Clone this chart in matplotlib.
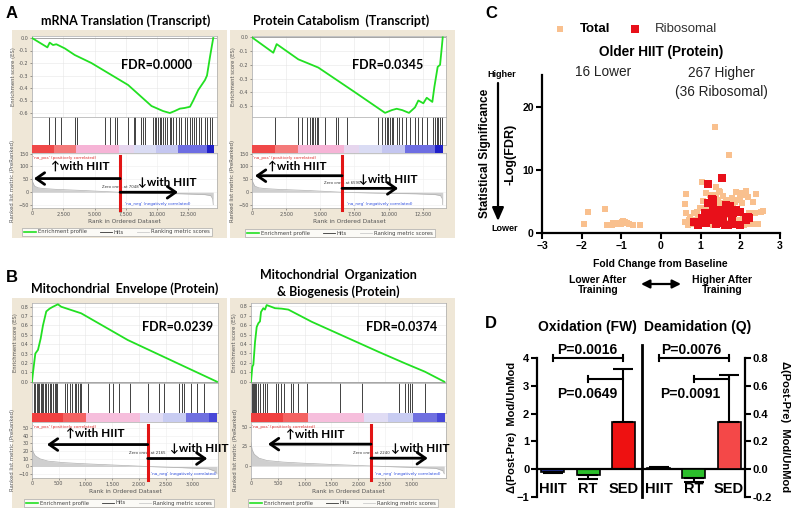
import numpy as np
import matplotlib
matplotlib.use('Agg')
import matplotlib.pyplot as plt
from matplotlib.colors import ListedColormap
from matplotlib.patches import Rectangle
from matplotlib.lines import Line2D

# ---------------- data ----------------
# A left: mRNA Translation (Transcript)
a1_es_rank = [0, 1230, 1415, 1680, 1950, 2620, 3420, 4750, 7690, 9560, 10500, 11030, 11400,
              11830, 12200, 12640, 12900, 13300, 13840, 14000, 14240, 14500]
a1_es = [0, -0.075, -0.037, -0.056, -0.05, -0.083, -0.136, -0.2, -0.376, -0.544, -0.585, -0.6,
         -0.585, -0.565, -0.56, -0.55, -0.5, -0.416, -0.336, -0.3, -0.15, 0]
a1_hits = [1330, 1810, 2350, 3410, 3630, 5870, 6210, 6670, 6830, 7680, 8160, 8270, 8690, 8880,
           9010, 9680, 9810, 9950, 10080, 10210, 10350, 10480, 10610, 10830, 11010, 11150, 11280,
           11550, 11730, 11950, 12210, 12430, 12610, 12800, 12960, 13150, 13330, 13550, 13810,
           14030, 14210, 14400]
a1_met_rank = [0, 50, 200, 500, 1000, 2000, 4000, 7000, 9000, 12000, 13800, 14300, 14450, 14500]
a1_met = [62, 40, 24, 17, 14, 11, 7, 0, -3, -6, -9, -13, -25, -48]
a1_n, a1_zero = 14500, 7048

# A right: Protein Catabolism (Transcript)
a2_es_rank = [0, 1560, 1805, 3390, 4370, 4855, 7540, 9740, 10230, 10590, 11000, 11490, 11930,
              12175, 12540, 12790, 13200, 13350, 13590, 13765, 13885, 13960]
a2_es = [0, -0.112, -0.049, -0.16, -0.2, -0.22, -0.40, -0.55, -0.53, -0.52, -0.53, -0.55, -0.51,
         -0.46, -0.48, -0.44, -0.47, -0.36, -0.215, -0.2, -0.08, 0]
a2_hits = [1680, 3390, 3690, 4000, 4250, 4370, 4490, 4610, 4730, 4810, 5340, 6130, 6270, 6930,
           9250, 9490, 9740, 9860, 9980, 10100, 10220, 10350, 10590, 10760, 10960, 11250, 11570,
           11930, 12130, 12470, 12790, 13280, 13400, 13520, 13640, 13760, 13890]
a2_met_rank = [0, 50, 200, 500, 1000, 2000, 4000, 6590, 9000, 12000, 13400, 13800, 13930, 13960]
a2_met = [62, 40, 24, 17, 14, 11, 7, 0, -3, -6, -9, -13, -25, -48]
a2_n, a2_zero = 13960, 6590

# B left: Mitochondrial Envelope (Protein)
b1_es_rank = [0, 19, 62, 112, 162, 205, 267, 330, 392, 485, 547, 920, 1791, 2724, 3460]
b1_es = [0, 0.10, 0.30, 0.34, 0.46, 0.60, 0.75, 0.78, 0.80, 0.826, 0.80, 0.73, 0.445, 0.196, 0]
b1_hits = [37, 62, 87, 112, 137, 162, 187, 211, 236, 267, 299, 330, 361, 392, 423, 454, 473,
           622, 659, 703, 746, 796, 827, 858, 889, 908, 1045, 1437, 1511, 1636, 1835, 2177,
           2382, 2475, 2755, 2799, 2836, 2973, 3085, 3209]
b1_met_rank = [0, 20, 60, 150, 300, 600, 1000, 1500, 2165, 2800, 3300, 3420, 3460]
b1_met = [26, 19, 14, 10, 7, 5, 3.5, 2, 0, -1.5, -3, -6, -9]
b1_n, b1_zero = 3460, 2165

# B right: Mitochondrial Organization & Biogenesis (Protein)
b2_es_rank = [0, 25, 44, 75, 106, 137, 168, 187, 230, 261, 292, 354, 448, 572, 697, 1132,
              1754, 2376, 2873, 3246, 3607]
b2_es = [0, 0.16, 0.18, 0.42, 0.58, 0.62, 0.64, 0.74, 0.78, 0.765, 0.813, 0.80, 0.78, 0.775,
         0.765, 0.636, 0.477, 0.318, 0.195, 0.106, 0]
b2_hits = [25, 44, 62, 81, 99, 137, 168, 230, 261, 292, 460, 510, 560, 622, 746, 790, 883,
           1039, 1660, 2065, 2761, 2873, 2923, 2966, 2997, 3246]
b2_met_rank = [0, 20, 60, 150, 300, 600, 1000, 1500, 2240, 2900, 3450, 3580, 3607]
b2_met = [30, 21, 15, 10, 7, 5, 3.5, 2, 0, -1.5, -3, -6, -10]
b2_n, b2_zero = 3607, 2240

# C: volcano
lower_x = [-1.95, -1.83, -1.41, -1.36, -1.24, -1.15, -1.07, -0.99, -0.90, -0.86, -0.70, -0.53,
           -1.00, -0.95, -1.20, -0.80]
lower_y = [1.5, 3.4, 3.8, 1.3, 1.3, 1.5, 1.6, 1.7, 1.8, 1.6, 1.3, 1.3, 1.4, 1.9, 1.6, 1.5]
higher_x = [0.63, 0.61, 0.64, 0.73, 0.61, 0.69, 0.90, 0.94, 0.98, 1.06, 1.13, 1.23, 1.35, 1.44,
            1.57, 1.65, 1.73, 1.82, 1.90, 1.99, 2.03, 2.11, 2.15, 2.19, 2.32, 2.40, 2.53, 2.58,
            2.23, 2.36, 2.11, 2.23, 2.36, 2.44, 2.07, 1.95, 1.39, 1.32, 1.53, 1.61, 0.86, 0.98,
            1.10, 1.22, 1.49, 1.69, 1.78, 1.86, 1.57, 1.39, 1.90, 2.03, 0.82, 1.39, 1.49, 1.35,
            1.71, 1.03, 1.45, 0.75, 1.00, 1.30, 1.45, 1.75, 1.85, 2.00, 2.10, 0.70, 1.15]
higher_y = [6.1, 4.6, 3.1, 2.6, 1.7, 1.3, 3.4, 2.6, 3.9, 5.0, 6.3, 6.0, 4.7, 5.2, 4.7, 5.2, 4.9,
            4.2, 5.2, 5.5, 4.7, 6.0, 6.7, 5.7, 4.9, 6.2, 3.4, 3.5, 3.1, 3.1, 1.5, 1.4, 1.4, 1.4,
            2.6, 2.1, 3.1, 2.3, 3.1, 2.8, 2.1, 2.1, 3.9, 4.1, 4.5, 3.9, 5.5, 4.9, 5.8, 6.0, 6.5,
            6.3, 3.1, 7.3, 6.5, 16.7, 12.3, 8.05, 6.6, 1.4, 1.4, 1.3, 1.4, 1.6, 1.3, 1.8, 1.3,
            2.0, 2.5]
rib_x = [1.19, 1.53, 1.28, 1.32, 1.65, 1.61, 1.90, 1.98, 2.19, 2.23, 1.10, 1.19, 1.28, 1.36,
         1.49, 1.57, 1.69, 1.78, 0.82, 0.93, 1.05, 1.14, 1.22, 1.39, 1.52, 1.61, 1.69, 1.78,
         1.99, 1.03, 1.49, 1.82, 1.32, 1.74, 1.19, 2.15]
rib_y = [7.7, 8.7, 5.4, 5.2, 4.4, 3.6, 3.7, 3.4, 2.6, 2.3, 3.2, 2.8, 3.1, 2.6, 2.6, 2.3, 3.1,
         2.3, 1.7, 1.3, 1.8, 1.6, 2.1, 1.5, 1.6, 1.3, 1.3, 1.4, 1.3, 2.3, 3.6, 3.1, 3.9, 4.2,
         4.7, 2.1]

# D: bars
groups = ['HIIT', 'RT', 'SED']
ox_mean = [-0.10, -0.22, 1.70]
ox_err = [0.05, 0.15, 1.90]
de_mean = [0.012, -0.062, 0.338]
de_err = [0.004, 0.030, 0.338]

# ---------------- figure ----------------
W, H = 800, 515
fig = plt.figure(figsize=(8, 5.15), dpi=100)
SANS = ['Liberation Sans', 'DejaVu Sans']
CAL = ['Lato', 'DejaVu Sans']
BEIGE = '#efe7d7'


def px_axes(x0, y0, x1, y1):
    return fig.add_axes([x0 / W, 1 - y1 / H, (x1 - x0) / W, (y1 - y0) / H])


def ftext(x, y, s, **kw):
    return fig.text(x / W, 1 - y / H, s, **kw)


cols_a = (['#f04848'] * 3 + ['#f47a7a'] * 3 + ['#f6b4d6'] * 6 + ['#e6d6ee'] * 2 + ['#dadcf4'] * 3
          + ['#c4c6f0'] * 3 + ['#6e6ee2'] * 4 + ['#2020c8'])
cols_b = (['#f04040'] * 4 + ['#f46262'] * 3 + ['#f6bedc'] * 7 + ['#e0dcf4'] * 3 + ['#c8ccf2'] * 3
          + ['#7070e0'] * 3 + ['#4848d8'])


def gsea(lay, es_rank, es, hits, met_rank, met, n, zero, cols):
    bx0, by0, bx1, by1 = lay['box']
    fig.add_artist(Rectangle((bx0 / W, 1 - by1 / H), (bx1 - bx0) / W, (by1 - by0) / H,
                             transform=fig.transFigure, facecolor=BEIGE, edgecolor='none', zorder=-5))
    x0, x1 = lay['x']
    e0, e1, h1, c1, r1 = lay['y']
    tick_kw = dict(labelsize=3.5, length=1.5, width=0.4, colors='#555555', pad=1)

    # enrichment score
    ax = px_axes(x0, e0, x1, e1)
    ax.plot(es_rank, es, color='#22e022', lw=1.3, zorder=3)
    ax.axhline(0, color='#999999', lw=0.6)
    ax.set_xlim(0, lay['xmax'])
    ax.set_ylim(*lay['es_lim'])
    ax.set_yticks(lay['es_ticks'])
    ax.set_yticklabels(['%.1f' % t for t in lay['es_ticks']])
    ax.set_xticks(lay['xticks'])
    ax.set_xticklabels([])
    ax.grid(color='#e6e6e6', lw=0.4)
    ax.tick_params(**tick_kw)
    ax.set_ylabel('Enrichment score (ES)', fontsize=3.8, color='#555555', labelpad=2)
    for s in ax.spines.values():
        s.set_color('#aaaaaa')
        s.set_linewidth(0.5)

    # hits
    axh = px_axes(x0, e1, x1, h1)
    axh.vlines(hits, 0, 1, color='#222222', lw=0.6)
    axh.set_xlim(0, lay['xmax'])
    axh.set_ylim(0, 1)
    axh.set_xticks([])
    axh.set_yticks([])
    for s in axh.spines.values():
        s.set_color('#aaaaaa')
        s.set_linewidth(0.5)

    # colour bar
    axc = px_axes(x0, h1, x1, c1)
    axc.imshow(np.arange(len(cols))[None, :], cmap=ListedColormap(cols), aspect='auto',
               extent=(0, n, 0, 1), interpolation='nearest')
    axc.set_xlim(0, lay['xmax'])
    axc.set_ylim(0, 1)
    axc.axis('off')

    # ranked list metric
    axr = px_axes(x0, c1, x1, r1)
    axr.fill_between(met_rank, 0, met, color='#cfcfcf', lw=0)
    axr.plot(met_rank, met, color='#b0b0b0', lw=0.5)
    axr.set_xlim(0, lay['xmax'])
    axr.set_ylim(*lay['met_lim'])
    axr.set_yticks(lay['met_ticks'])
    axr.set_xticks(lay['xticks'])
    axr.set_xticklabels(['{:,}'.format(t) for t in lay['xticks']])
    axr.tick_params(**tick_kw)
    axr.set_xlabel('Rank in Ordered Dataset', fontsize=4.2, color='#555555', labelpad=1.5)
    axr.set_ylabel('Ranked list metric (PreRanked)', fontsize=3.8, color='#555555', labelpad=2)
    for s in axr.spines.values():
        s.set_color('#aaaaaa')
        s.set_linewidth(0.5)
    axr.grid(color='#eeeeee', lw=0.4)
    axr.set_axisbelow(True)
    ylo, yhi = lay['met_lim']
    axr.text(lay['xmax'] * 0.005, yhi - (yhi - ylo) * 0.05, "'na_pos' (positively correlated)",
             color='#e03030', fontsize=3, va='top')
    axr.text(zero + (n - zero) * 0.05, ylo + (yhi - ylo) * 0.04, "'na_neg' (negatively correlated)",
             color='#3050e0', fontsize=3, va='bottom')
    axr.text(zero, lay['down']['y'] + (yhi - ylo) * 0.1, 'Zero cross at %d' % zero,
             fontsize=2.8, color='#333333', ha='center', va='center')
    axr.axvline(zero, ymin=-0.03, ymax=0.94, color='#e21515', lw=2.2, clip_on=False, zorder=5)
    arr = dict(arrowstyle='->,head_length=0.5,head_width=0.35', lw=2.0, color='black',
               mutation_scale=12, shrinkA=0, shrinkB=0)
    up, dn = lay['up'], lay['down']
    axr.annotate('', xy=(up['end'], up['y']), xytext=(zero, up['y']), arrowprops=arr,
                 annotation_clip=False, zorder=6)
    axr.annotate('', xy=(dn['end'], dn['y']), xytext=(zero, dn['y']), arrowprops=arr,
                 annotation_clip=False, zorder=6)
    axr.text(up['tx'], up['ty'], '\u2191with HIIT', family=CAL, fontweight='bold', fontsize=8.5,
             ha='center', va='center', zorder=7)
    axr.text(dn['tx'], dn['ty'], '\u2193with HIIT', family=CAL, fontweight='bold', fontsize=8.5,
             ha='center', va='center', zorder=7)

    # titles / FDR / legend
    for (tx, ty, s) in lay['title']:
        ftext(tx, ty, s, family=CAL, fontweight='bold', fontsize=9, ha='center', va='center')
    ftext(lay['fdr'][0], lay['fdr'][1], lay['fdr'][2], family=CAL, fontweight='bold', fontsize=9,
          ha='center', va='center')
    handles = [Line2D([], [], color='#22e022', lw=1.2), Line2D([], [], color='#333333', lw=0.6),
               Line2D([], [], color='#cccccc', lw=0.6)]
    leg = fig.legend(handles, ['Enrichment profile', 'Hits', 'Ranking metric scores'],
                     loc='center', bbox_to_anchor=(lay['legend'][0] / W, 1 - lay['legend'][1] / H),
                     ncol=3, fontsize=3.8, frameon=True, fancybox=False, edgecolor='#999999',
                     handlelength=2.2, columnspacing=2.5, handletextpad=0.4, borderpad=0.35)
    leg.get_frame().set_linewidth(0.5)
    for t in leg.get_texts():
        t.set_color('#444444')


lay_a1 = dict(box=(12, 30, 227, 238), x=(32, 217), y=(36, 117, 145, 153, 208), xmax=14800,
              es_lim=(-0.632, 0.016), es_ticks=[0, -0.1, -0.2, -0.3, -0.4, -0.5, -0.6],
              met_lim=(-61, 152), met_ticks=[-50, 0, 50, 100, 150],
              xticks=[0, 2500, 5000, 7500, 10000, 12500],
              title=[(126, 21, 'mRNA Translation (Transcript)')], fdr=(157, 65, 'FDR=0.0000'),
              legend=(117, 232),
              up=dict(y=53, end=150, tx=3840, ty=101), down=dict(y=0, end=11680, tx=10800, ty=37))
lay_a2 = dict(box=(230, 30, 455, 238), x=(252, 446), y=(36, 117, 145, 153, 208), xmax=14200,
              es_lim=(-0.58, 0.01), es_ticks=[0, -0.1, -0.2, -0.3, -0.4, -0.5],
              met_lim=(-61, 152), met_ticks=[-50, 0, 50, 100, 150],
              xticks=[0, 2500, 5000, 7500, 10000, 12500],
              title=[(341, 21, 'Protein Catabolism  (Transcript)')], fdr=(388, 65, 'FDR=0.0345'),
              legend=(340, 233),
              up=dict(y=64, end=220, tx=3300, ty=102), down=dict(y=15, end=10700, tx=9960, ty=49))
lay_b1 = dict(box=(12, 298, 227, 508), x=(32, 218), y=(303, 383, 413, 422, 478), xmax=3480,
              es_lim=(-0.014, 0.84), es_ticks=[0, 0.1, 0.2, 0.3, 0.4, 0.5, 0.6, 0.7, 0.8],
              met_lim=(-15, 58), met_ticks=[-10, 0, 10, 20, 30, 40, 50],
              xticks=[0, 500, 1000, 1500, 2000, 2500, 3000],
              title=[(125, 289, 'Mitochondrial  Envelope (Protein)')], fdr=(178, 327, 'FDR=0.0239'),
              legend=(119, 503),
              up=dict(y=28.6, end=280, tx=1175, ty=43), down=dict(y=10.4, end=3280, tx=3130, ty=23))
lay_b2 = dict(box=(230, 298, 455, 508), x=(251, 446), y=(303, 383, 413, 422, 478), xmax=3640,
              es_lim=(-0.014, 0.835), es_ticks=[0, 0.1, 0.2, 0.3, 0.4, 0.5, 0.6, 0.7, 0.8],
              met_lim=(-15.4, 56.4), met_ticks=[0, 25, 50],
              xticks=[0, 500, 1000, 1500, 2000, 2500, 3000],
              title=[(338, 275, 'Mitochondrial  Organization'), (338, 292, '& Biogenesis (Protein)')],
              fdr=(402, 327, 'FDR=0.0374'), legend=(343, 503),
              up=dict(y=28, end=317, tx=1194, ty=41), down=dict(y=10, end=3300, tx=3153, ty=23))

gsea(lay_a1, a1_es_rank, a1_es, a1_hits, a1_met_rank, a1_met, a1_n, a1_zero, cols_a)
gsea(lay_a2, a2_es_rank, a2_es, a2_hits, a2_met_rank, a2_met, a2_n, a2_zero, cols_a)
gsea(lay_b1, b1_es_rank, b1_es, b1_hits, b1_met_rank, b1_met, b1_n, b1_zero, cols_b)
gsea(lay_b2, b2_es_rank, b2_es, b2_hits, b2_met_rank, b2_met, b2_n, b2_zero, cols_b)

# panel letters
for (lx, ly, s) in [(12, 14, 'A'), (12, 278, 'B'), (491, 14, 'C'), (491, 324, 'D')]:
    ftext(lx, ly, s, family=SANS, fontweight='bold', fontsize=12, ha='center', va='center')

# ---------------- C ----------------
axc = px_axes(542, 75, 780, 233)
peach = '#f9c08e'
s1 = axc.scatter(lower_x + higher_x, lower_y + higher_y, marker='s', s=14, color=peach, lw=0,
                 label='Total', zorder=2)
s2 = axc.scatter(rib_x, rib_y, marker='s', s=30, color='#e8101a', lw=0, label='Ribosomal', zorder=3)
axc.set_xlim(-3, 3)
axc.set_ylim(0, 25)
axc.set_xticks(range(-3, 4))
axc.set_yticks([0, 10, 20])
axc.spines['top'].set_visible(False)
axc.spines['right'].set_visible(False)
for s in ['left', 'bottom']:
    axc.spines[s].set_linewidth(1.6)
axc.tick_params(which='major', length=4, width=1.5, labelsize=7.5, pad=2)
for t in axc.get_xticklabels() + axc.get_yticklabels():
    t.set_fontweight('bold')
    t.set_family(SANS)
axc.set_ylabel('-Log(FDR)', fontsize=9, fontweight='bold', family=SANS, labelpad=4)
leg = fig.legend([s1, s2], ['Total', 'Ribosomal'], loc='center', bbox_to_anchor=(632 / W, 1 - 29 / H),
                 ncol=2, frameon=False, prop=dict(family=SANS, size=9.5), handletextpad=0.5,
                 columnspacing=0.9, markerscale=1.1)
leg.get_texts()[0].set_fontweight('bold')
leg.get_texts()[1].set_color('#333333')
ftext(661, 52, 'Older HIIT (Protein)', family=SANS, fontweight='bold', fontsize=9.8,
      ha='center', va='center')
ftext(603, 72, '16 Lower', family=SANS, fontsize=9.8, ha='center', va='center', color='#222222')
ftext(721, 73, '267 Higher', family=SANS, fontsize=9.8, ha='center', va='center', color='#222222')
ftext(721, 92, '(36 Ribosomal)', family=SANS, fontsize=9.8, ha='center', va='center', color='#222222')
ftext(485, 153, 'Statistical Significance', family=SANS, fontweight='bold', fontsize=8.5,
      rotation=90, ha='center', va='center')
ftext(502, 75, 'Higher', family=SANS, fontweight='bold', fontsize=6.5, ha='center', va='center')
ftext(505, 229, 'Lower', family=SANS, fontweight='bold', fontsize=6.5, ha='center', va='center')
axc.annotate('', xy=(498, H - 221), xytext=(498, H - 83), xycoords='figure pixels',
             textcoords='figure pixels', annotation_clip=False,
             arrowprops=dict(arrowstyle='-|>,head_length=0.8,head_width=0.35', lw=1.6,
                             color='black', shrinkA=0, shrinkB=0))
ftext(660, 264, 'Fold Change from Baseline', family=SANS, fontweight='bold', fontsize=7.5,
      ha='center', va='center')
ftext(598, 285, 'Lower After\nTraining', family=SANS, fontweight='bold', fontsize=7.5,
      ha='center', va='center', linespacing=1.1)
ftext(722, 285, 'Higher After\nTraining', family=SANS, fontweight='bold', fontsize=7.5,
      ha='center', va='center', linespacing=1.1)
axc.annotate('', xy=(681, H - 284), xytext=(641, H - 284), xycoords='figure pixels',
             textcoords='figure pixels', annotation_clip=False,
             arrowprops=dict(arrowstyle='<|-|>,head_length=0.5,head_width=0.25', lw=1.6,
                             color='black', shrinkA=0, shrinkB=0))

# ---------------- D ----------------
axd = px_axes(537, 358, 745, 497)
axd.set_xlim(-0.45, 5.45)
axd.set_ylim(-1, 4)
axr2 = axd.twinx()
axr2.set_ylim(-0.2, 0.8)
ebar = dict(capsize=7, capthick=1.5, elinewidth=1.5, ecolor='black')


def one_sided(mean, err):
    lo = [e if m < 0 else 0 for m, e in zip(mean, err)]
    hi = [0 if m < 0 else e for m, e in zip(mean, err)]
    return [lo, hi]


axd.bar([0, 1, 2], ox_mean, width=0.65, color=['#1f2f8f', '#2cbf2c', '#ee1111'],
        edgecolor='black', lw=1.2, yerr=one_sided(ox_mean, ox_err), error_kw=ebar, zorder=3)
axr2.bar([3, 4, 5], de_mean, width=0.65, color=['#1a1a1a', '#2cbf2c', '#f44848'],
         edgecolor='black', lw=1.2, yerr=one_sided(de_mean, de_err), error_kw=ebar, zorder=3)
axd.axhline(0, color='black', lw=1.6, zorder=4)
axd.plot([2.53, 2.53], [-1, 4.45], color='black', lw=2, clip_on=False)

for a in (axd, axr2):
    for s in ['top', 'bottom']:
        a.spines[s].set_visible(False)
    a.set_xticks([])
axd.spines['right'].set_visible(False)
axr2.spines['left'].set_visible(False)
axd.spines['left'].set_linewidth(1.6)
axr2.spines['right'].set_linewidth(1.6)
axd.set_yticks([-1, 0, 1, 2, 3, 4])
axr2.set_yticks([-0.2, 0, 0.2, 0.4, 0.6, 0.8])
axr2.set_yticklabels(['-0.2', '0.0', '0.2', '0.4', '0.6', '0.8'])
axd.tick_params(length=4, width=1.5, labelsize=8, pad=1.5)
axr2.tick_params(length=4, width=1.5, labelsize=8, pad=1.5)
for t in axd.get_yticklabels() + axr2.get_yticklabels():
    t.set_fontweight('bold')
    t.set_family(SANS)


def bracket(ax, xa, xb, y, h, cap_left=True, cap_right=True):
    ax.plot([xa, xb], [y, y], color='black', lw=1.5, clip_on=False)
    if cap_left:
        ax.plot([xa, xa], [y - h, y + h], color='black', lw=1.5, clip_on=False)
    if cap_right:
        ax.plot([xb, xb], [y - h, y + h], color='black', lw=1.5, clip_on=False)


bracket(axd, 0, 2, 4.0, 0.12)
bracket(axd, 1, 2, 3.25, 0.12, cap_right=False)
bracket(axr2, 3, 5, 0.8, 0.024)
bracket(axr2, 4, 5, 0.65, 0.024, cap_right=False)
ptxt = dict(family=SANS, fontweight='bold', fontsize=10, ha='center', va='center')
axd.text(0.97, 4.28, 'P=0.0016', **ptxt)
axd.text(0.97, 2.7, 'P=0.0649', **ptxt)
axr2.text(3.92, 0.856, 'P=0.0076', **ptxt)
axr2.text(3.89, 0.54, 'P=0.0091', **ptxt)
for i, g in enumerate(groups + groups):
    axd.text(i, -0.73, g, family=SANS, fontweight='bold', fontsize=10.5, ha='center', va='center')

ftext(587, 327, 'Oxidation (FW)', family=SANS, fontweight='bold', fontsize=10, ha='center', va='center')
ftext(698, 327, 'Deamidation (Q)', family=SANS, fontweight='bold', fontsize=10, ha='center', va='center')
ftext(512, 427, '\u0394(Post-Pre)  Mod/UnMod', family=SANS, fontweight='bold', fontsize=8,
      rotation=90, ha='center', va='center')
ftext(785, 427, '\u0394(Post-Pre)  Mod/UnMod', family=SANS, fontweight='bold', fontsize=8,
      rotation=270, ha='center', va='center')

fig.savefig('out.png', dpi=100, facecolor='white')
